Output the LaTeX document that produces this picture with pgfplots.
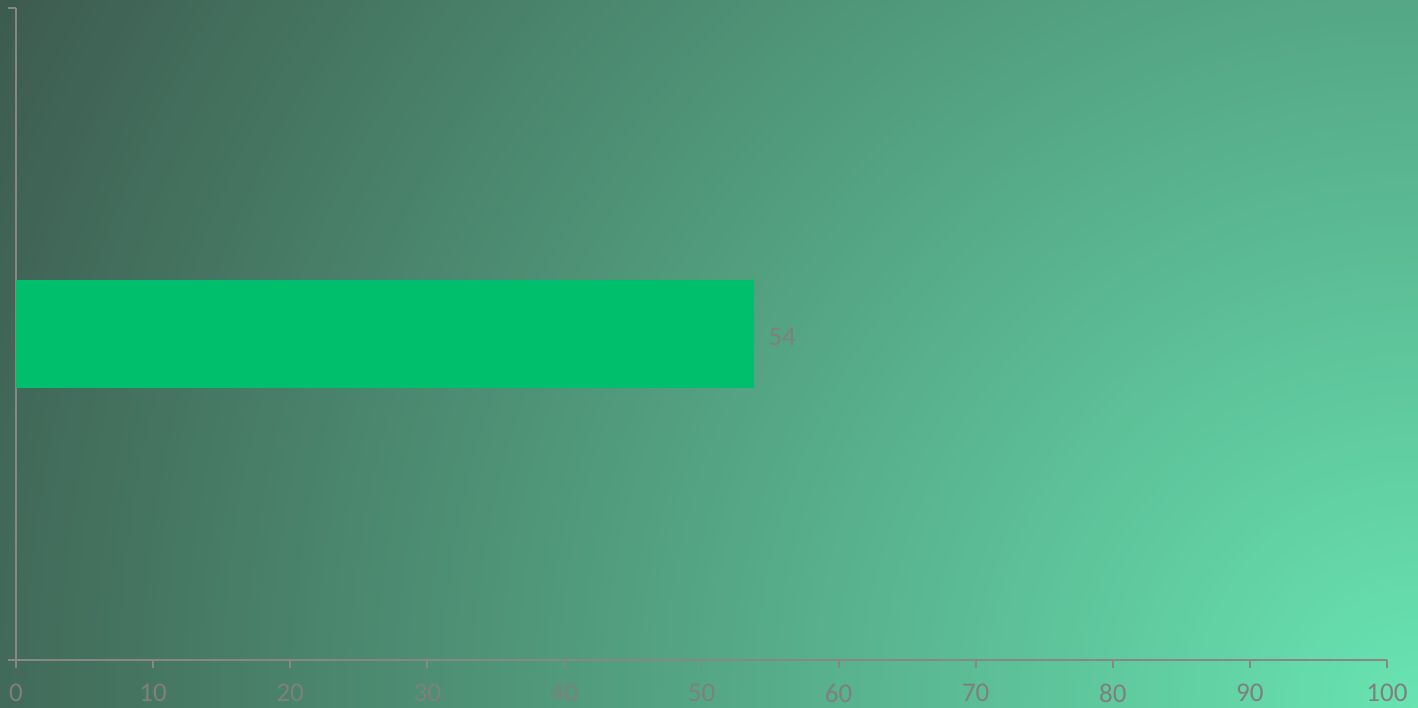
\documentclass[border=0pt]{standalone}
\usepackage{pgfplots}
\pgfplotsset{compat=1.18}
\usepackage{fontspec}
\setmainfont{Carlito}
\definecolor{bgin}{HTML}{68E4B1}
\definecolor{bgout}{HTML}{3D5B4F}
\definecolor{barc}{HTML}{00BF6C}
\definecolor{axc}{HTML}{878787}
\definecolor{txtc}{HTML}{7F7F7F}
\begin{document}
\begin{tikzpicture}
\useasboundingbox (0,0) rectangle (709pt,353.5pt);
\begin{scope}
\clip (0,0) rectangle (709pt,353.5pt);
\shade[inner color=bgin, outer color=bgout] (709pt,0pt) circle (792pt);
\end{scope}
\begin{axis}[
  at={(8pt,23.5pt)}, anchor=south west,
  scale only axis, width=685.5pt, height=326pt,
  xbar, bar width=54pt,
  xmin=0, xmax=100, ymin=-0.5, ymax=0.5,
  xtick={0,10,...,100},
  ytick={-0.5,0.5}, yticklabels={},
  axis x line*=bottom, axis y line*=left,
  axis line style={draw=axc, line width=0.9pt, -},
  tick style={draw=axc, line width=0.9pt},
  major tick length=4pt, tick align=outside,
  /pgf/number format/assume math mode=true,
  ticklabel style={font=\fontsize{13.5}{15}\selectfont, text=txtc},
  xticklabel style={inner sep=0pt, yshift=-8pt},
  nodes near coords={\pgfmathprintnumber[fixed,precision=0]{\pgfplotspointmeta}},
  every node near coord/.append style={font=\fontsize{13.5}{15}\selectfont, text=txtc, xshift=4pt, yshift=-1.5pt},
  clip=false,
]
\addplot[fill=barc, draw=none] coordinates {(53.8,0)};
\end{axis}
\end{tikzpicture}
\end{document}
